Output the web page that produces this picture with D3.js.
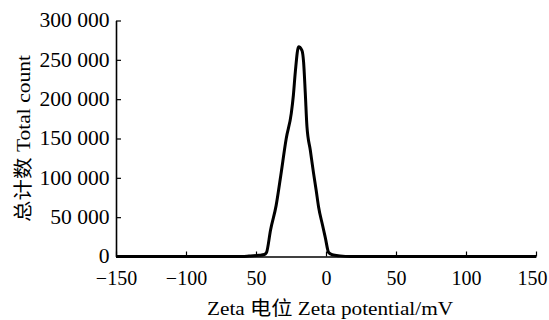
<!DOCTYPE html>
<html>
<head>
<meta charset="utf-8">
<script src="https://cdn.jsdelivr.net/npm/d3@7"></script>
<style>
  body { margin: 0; background: #fff; }
  svg text { font-family: "Liberation Serif", "Noto Sans CJK SC", serif; }
</style>
</head>
<body>
<figure id="chart" style="margin:0"></figure>
<script>
// zeta potential (mV) and total count
const zeta = [-150, -60, -55, -48, -44, -42.5, -39.6, -35.6, -32.3, -28.4, -24.8, -23.3, -21.9, -19.6, -17.2, -16, -14.8, -13.6, -11.2, -8.9, -7, -5.3, -2.5, -0.5, 1.9, 4.5, 10, 17, 150];
const counts = [0, 0, 500, 1500, 2500, 5000, 33700, 65000, 103000, 150000, 182000, 205000, 235000, 266500, 262000, 247000, 208000, 165000, 135000, 106000, 84000, 63000, 40000, 24000, 5000, 2200, 800, 0, 0];
const xTicks = [-150, -100, -50, 0, 50, 100, 150];
const xTickLabels = ["\u2212150", "\u2212100", "50", "0", "50", "100", "150"];
const yTicks = [0, 50000, 100000, 150000, 200000, 250000, 300000];

const width = 549, height = 320;
const mLeft = 116, mRight = 536, mTop = 20.5, mBottom = 256.5;

const svg = d3.select("#chart")
  .append("svg")
  .attr("width", width)
  .attr("height", height);

const x = d3.scaleLinear().domain([-150, 150]).range([mLeft, mRight]);
const y = d3.scaleLinear().domain([0, 300000]).range([mBottom, mTop]);

// x axis, ticks pointing in
const xAxis = svg.append("g")
  .attr("transform", "translate(0," + mBottom + ")")
  .call(d3.axisBottom(x)
    .tickValues(xTicks)
    .tickFormat((d, i) => xTickLabels[i])
    .tickSizeInner(-5)
    .tickSizeOuter(0)
    .tickPadding(14));

// y axis
const yAxis = svg.append("g")
  .attr("transform", "translate(" + mLeft + ",0)")
  .call(d3.axisLeft(y)
    .tickValues(yTicks)
    .tickFormat(d => d3.format(",")(d).replace(/,/g, " "))
    .tickSizeInner(-5)
    .tickSizeOuter(0)
    .tickPadding(6));

[xAxis, yAxis].forEach(g => {
  g.select(".domain").attr("stroke", "#000").attr("stroke-width", 1.6);
  g.selectAll(".tick line").attr("stroke", "#000").attr("stroke-width", 1.2);
  g.selectAll(".tick text")
    .attr("fill", "#000")
    .style("font-size", "20px")
    .style("font-family", '"Liberation Serif", serif');
});

// y labels are a touch wider in the original
yAxis.selectAll(".tick text").attr("transform", "scale(1.08,1)");

// last x label sits a little left so it stays inside
xAxis.selectAll(".tick text").filter(d => d === 150).attr("dx", -4);

// curve
const pts = zeta.map((z, i) => [z, counts[i]]);
const line = d3.line()
  .x(d => x(d[0]))
  .y(d => y(d[1]))
  .curve(d3.curveMonotoneX);

svg.append("path")
  .datum(pts)
  .attr("fill", "none")
  .attr("stroke", "#000")
  .attr("stroke-width", 3)
  .attr("stroke-linejoin", "round")
  .attr("d", line);

// axis titles
svg.append("text")
  .attr("x", 330)
  .attr("y", 315)
  .attr("text-anchor", "middle")
  .attr("textLength", 246)
  .attr("lengthAdjust", "spacingAndGlyphs")
  .style("font-size", "19px")
  .text("Zeta 电位 Zeta potential/mV");

svg.append("text")
  .attr("transform", "translate(29.5,138.5) rotate(-90)")
  .attr("text-anchor", "middle")
  .attr("textLength", 167)
  .attr("lengthAdjust", "spacingAndGlyphs")
  .style("font-size", "19px")
  .text("总计数 Total count");
</script>
</body>
</html>
